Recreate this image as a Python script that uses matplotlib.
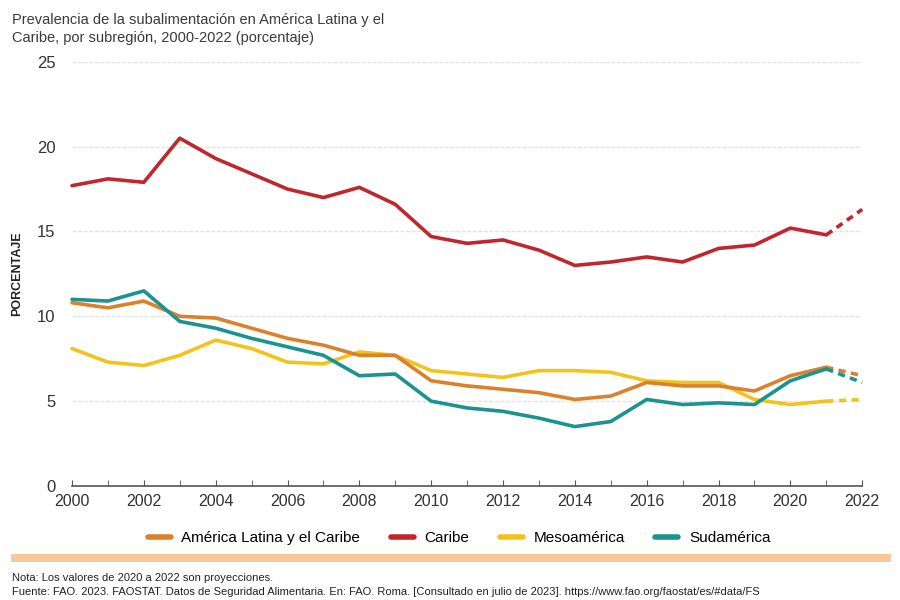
import matplotlib.pyplot as plt
from matplotlib.patches import Rectangle
from matplotlib.lines import Line2D

plt.rcParams['font.family'] = ['Liberation Sans', 'DejaVu Sans']

# Datos (porcentaje)
anios = list(range(2000, 2023))
alc = [10.8, 10.5, 10.9, 10.0, 9.9, 9.3, 8.7, 8.3, 7.7, 7.7, 6.2, 5.9, 5.7,
       5.5, 5.1, 5.3, 6.1, 5.9, 5.9, 5.6, 6.5, 7.0, 6.5]
caribe = [17.7, 18.1, 17.9, 20.5, 19.3, 18.4, 17.5, 17.0, 17.6, 16.6, 14.7, 14.3, 14.5,
          13.9, 13.0, 13.2, 13.5, 13.2, 14.0, 14.2, 15.2, 14.8, 16.3]
meso = [8.1, 7.3, 7.1, 7.7, 8.6, 8.1, 7.3, 7.2, 7.9, 7.7, 6.8, 6.6, 6.4,
        6.8, 6.8, 6.7, 6.2, 6.1, 6.1, 5.1, 4.8, 5.0, 5.1]
sud = [11.0, 10.9, 11.5, 9.7, 9.3, 8.7, 8.2, 7.7, 6.5, 6.6, 5.0, 4.6, 4.4,
       4.0, 3.5, 3.8, 5.1, 4.8, 4.9, 4.8, 6.2, 6.9, 6.1]

series = [
    ('América Latina y el Caribe', alc, '#d9822b'),
    ('Caribe', caribe, '#c0272d'),
    ('Mesoamérica', meso, '#f2c31b'),
    ('Sudamérica', sud, '#1a9391'),
]

fig = plt.figure(figsize=(9, 6), dpi=100)
ax = fig.add_axes([0.08, 0.19, 0.878, 0.707])

# orden de dibujo: amarillo debajo
for nombre, vals, color in [series[2], series[0], series[3], series[1]]:
    ax.plot(anios[:-1], vals[:-1], color=color, lw=2.6, solid_capstyle='round', clip_on=False)
    ax.plot(anios[-2:], vals[-2:], color=color, lw=2.6, ls=(0, (2, 1.5)), clip_on=False)

ax.set_xlim(2000, 2022)
ax.set_ylim(0, 25)
ax.set_yticks([0, 5, 10, 15, 20, 25])
ax.set_xticks(range(2000, 2023, 2))
ax.set_xticks(range(2000, 2023), minor=True)
for y in [5, 10, 15, 20, 25]:
    ax.axhline(y, color='#e4e4e4', lw=1, ls=(0, (3, 1)), zorder=0)

for s in ['top', 'right', 'left']:
    ax.spines[s].set_visible(False)
ax.spines['bottom'].set_color('#555555')
ax.spines['bottom'].set_linewidth(1.2)
ax.tick_params(axis='y', length=0, pad=12, labelsize=12, labelcolor='#333333')
ax.tick_params(axis='x', which='both', direction='in', length=4, color='#555555',
               pad=6, labelsize=11.5, labelcolor='#333333')
ax.tick_params(axis='x', which='minor', labelbottom=False)
ax.set_ylabel('PORCENTAJE', fontsize=9, color='#222222', fontweight='bold', labelpad=10)

fig.text(0.013, 0.978, 'Prevalencia de la subalimentación en América Latina y el\n'
         'Caribe, por subregión, 2000-2022 (porcentaje)', ha='left', va='top',
         fontsize=10.5, color='#3a3a3a', linespacing=1.35)

handles = [Line2D([0], [0], color=c, lw=4, solid_capstyle='round') for _, _, c in series]
fig.legend(handles, [n for n, _, _ in series], loc='center', bbox_to_anchor=(0.51, 0.103),
           ncol=4, frameon=False, fontsize=11, handlelength=1.5, columnspacing=2.0,
           handletextpad=0.7)

fig.patches.append(Rectangle((0.012, 0.063), 0.978, 0.013, transform=fig.transFigure,
                             facecolor='#f8c898', edgecolor='none'))

fig.text(0.013, 0.036, 'Nota: Los valores de 2020 a 2022 son proyecciones.', fontsize=8,
         color='#222222', va='center')
fig.text(0.013, 0.013, 'Fuente: FAO. 2023. FAOSTAT. Datos de Seguridad Alimentaria. En: FAO. Roma. '
         '[Consultado en julio de 2023]. https://www.fao.org/faostat/es/#data/FS',
         fontsize=8, color='#222222', va='center')

fig.savefig('out.png', dpi=100, facecolor='white')
